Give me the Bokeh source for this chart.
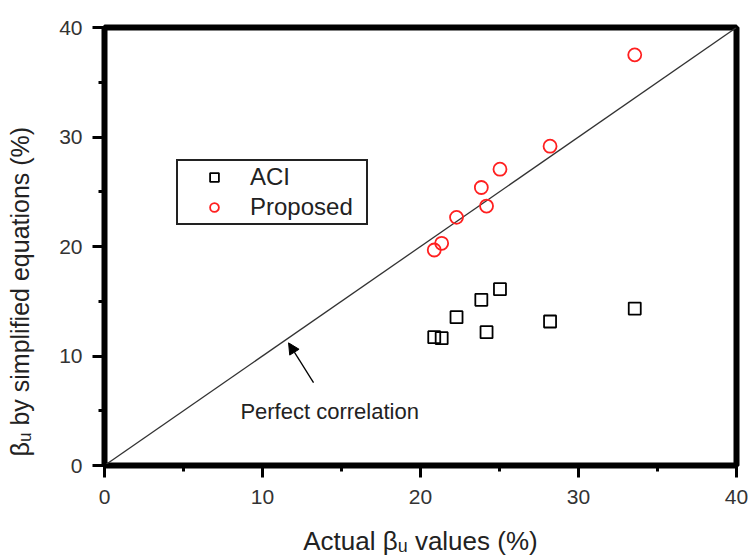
from bokeh.plotting import figure
from bokeh.models import FixedTicker, Legend, LegendItem, Label, Arrow, NormalHead
from bokeh.embed import file_html
from bokeh.resources import INLINE

# ---- data ----
actual = [20.87, 21.34, 22.28, 23.85, 24.18, 25.03, 28.2, 33.56]
aci = [11.72, 11.63, 13.55, 15.13, 12.18, 16.1, 13.15, 14.33]
proposed = [19.68, 20.29, 22.66, 25.39, 23.69, 27.06, 29.16, 37.5]
perfect_x = [0, 40]
perfect_y = [0, 40]
major_ticks = [0, 10, 20, 30, 40]
minor_ticks = [5, 15, 25, 35]
x_title = "Actual βᵤ values (%)"
y_title = "βᵤ by simplified equations (%)"

FONT = "Liberation Sans"
TXT = "#222222"

p = figure(width=748, height=558, x_range=(0, 40), y_range=(0, 40),
           output_backend="svg", toolbar_location=None,
           min_border_left=104, min_border_right=12,
           min_border_top=27, min_border_bottom=92)
p.background_fill_color = "white"
p.border_fill_color = "white"
p.grid.visible = False
p.outline_line_color = "black"
p.outline_line_width = 6
p.outline_line_alpha = 1.0

p.xaxis.ticker = FixedTicker(ticks=major_ticks, minor_ticks=minor_ticks)
p.yaxis.ticker = FixedTicker(ticks=major_ticks, minor_ticks=minor_ticks)
for axl in (p.xaxis, p.yaxis):
    axl.axis_line_width = 3
    axl.axis_line_color = "black"
    axl.axis_line_alpha = 1.0
    axl.major_tick_line_width = 3
    axl.minor_tick_line_width = 3
    axl.major_tick_line_color = "black"
    axl.minor_tick_line_color = "black"
    axl.major_tick_in = 0
    axl.major_tick_out = 12
    axl.minor_tick_in = 0
    axl.minor_tick_out = 6
    axl.major_label_text_font = FONT
    axl.major_label_text_font_size = "21px"
    axl.major_label_text_color = "#333333"
    axl.axis_label_text_font = FONT
    axl.axis_label_text_font_size = "26px"
    axl.axis_label_text_font_style = "normal"
    axl.axis_label_text_color = TXT

p.yaxis.axis_label_text_font_size = "25px"
p.xaxis.major_label_standoff = 12
p.yaxis.major_label_standoff = 10
p.xaxis.axis_label = x_title
# trailing no-break spaces push the rotated title downward, as in the reference
p.yaxis.axis_label = y_title + "\u00a0" * 13
p.xaxis.axis_label_standoff = 19
p.yaxis.axis_label_standoff = 22

p.line(perfect_x, perfect_y, line_color="#333333", line_width=1.3)

r_aci = p.scatter(actual, aci, marker="square", size=12, fill_color=None,
                  line_color="black", line_width=1.8)
r_prop = p.scatter(actual, proposed, marker="circle", size=13, fill_color=None,
                   line_color="#ff2020", line_width=1.8)

legend = Legend(items=[LegendItem(label="ACI", renderers=[r_aci]),
                       LegendItem(label="Proposed", renderers=[r_prop])],
                location=(72, 240), padding=2, spacing=2,
                glyph_width=68, glyph_height=22, label_height=22,
                label_width=114, label_standoff=2, label_text_font=FONT,
                label_text_font_size="24px", label_text_color=TXT,
                border_line_color="#222222", border_line_width=2,
                border_line_alpha=1.0,
                background_fill_alpha=1, margin=0)
p.add_layout(legend)

arrow_tail = (13.23, 7.56)
arrow_tip = (11.65, 11.2)
p.add_layout(Arrow(end=NormalHead(size=11, fill_color="black", line_color="black"),
                   x_start=arrow_tail[0], y_start=arrow_tail[1],
                   x_end=arrow_tip[0], y_end=arrow_tip[1],
                   line_color="black", line_width=1.3))
p.add_layout(Label(x=8.6, y=4.95, text="Perfect correlation", text_font=FONT,
                   text_font_size="22px", text_color=TXT,
                   text_baseline="alphabetic", text_align="left"))

open("out.html", "w").write(file_html(p, INLINE))
